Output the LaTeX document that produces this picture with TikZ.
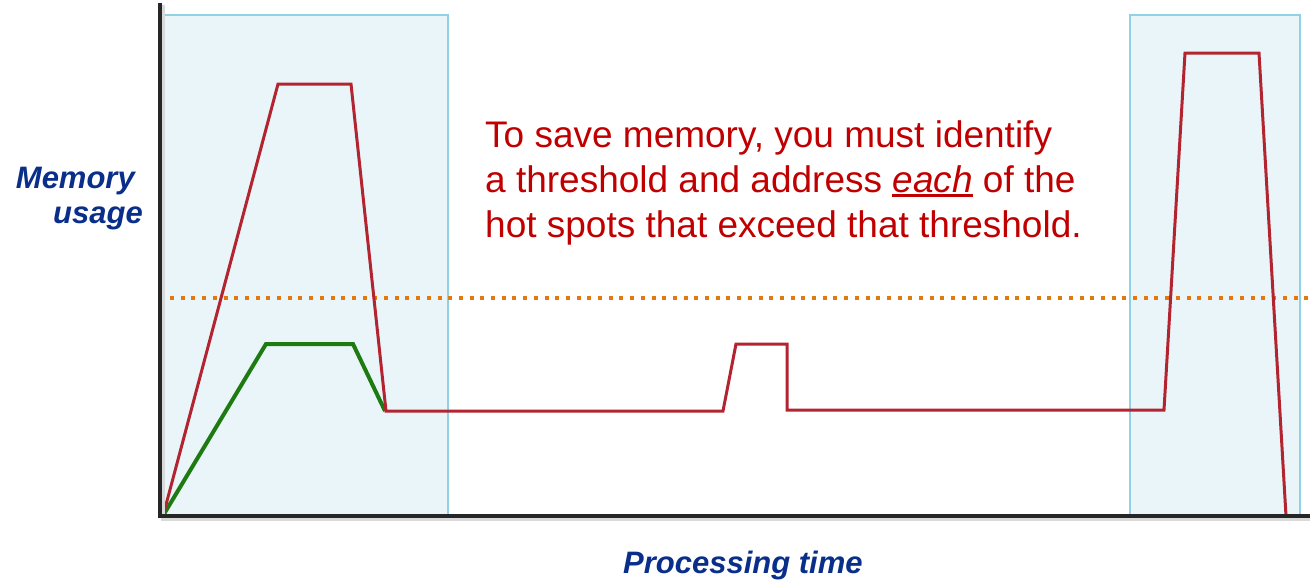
\documentclass[tikz,border=0pt]{standalone}
\usepackage{fontspec}
\setmainfont{Liberation Sans}
\newcommand\ulword[1]{\setbox0\hbox{#1}\rlap{\rule[-5pt]{\wd0}{2.6pt}}\box0\relax}
\definecolor{boxfill}{HTML}{EAF5FA}
\definecolor{boxline}{HTML}{92D0E6}
\definecolor{redline}{HTML}{B22530}
\definecolor{greenline}{HTML}{1E7B12}
\definecolor{orangedot}{HTML}{E3780E}
\definecolor{axiscol}{HTML}{262626}
\definecolor{labelblue}{HTML}{0A2F8A}
\definecolor{msgred}{HTML}{C00000}
\begin{document}
\begin{tikzpicture}[x=1pt,y=-1pt,
  hotbox/.style={fill=boxfill,draw=boxline,line width=1.6pt},
  usage/.style={draw=redline,line width=3pt,line join=miter},
  lowusage/.style={draw=greenline,line width=4pt,line join=miter},
  threshold/.style={draw=orangedot,line width=4pt,dash pattern=on 4pt off 6.7pt},
  axis/.style={draw=axiscol,line width=4pt},
  axislabel/.style={font=\fontsize{31}{35}\selectfont\bfseries\itshape,text=labelblue,inner sep=0pt},
  msg/.style={font=\fontsize{37}{45}\selectfont,text=msgred,align=left,inner sep=0pt,anchor=base west}]
\useasboundingbox (0,0) rectangle (1310,581);
% hot-spot regions
\path[hotbox] (163,15) rectangle (448,516);
\path[hotbox] (1130,15) rectangle (1300,516);
% threshold
\draw[threshold] (170,298) -- (1310,298);
% curves
\draw[lowusage] (164,514) -- (266,344) -- (353,344) -- (385,411);
\draw[usage] (163,516) -- (278,84) -- (351,84) -- (386,411) -- (723,411)
  -- (736,344) -- (787,344) -- (787,410) -- (1164,410) -- (1185,53)
  -- (1259,53) -- (1286,516);
% axes
\coordinate (top) at (160,3);
\coordinate (orig) at (160,516);
\coordinate (right) at (1310,516);
\draw[draw=black!15,line width=4pt] (162.5,5) -- (162.5,518.5) -- (1310,518.5);
\draw[axis] (top) -- (orig) -- (right);
% labels
\node[axislabel,anchor=base east,align=right] (ylab) at (143,223) {Memory\hspace*{8pt}\\usage};
\node[axislabel,anchor=base west] (xlab) at (623,573) {Processing time};
\node[msg] (note) at (485,237) {To save memory, you must identify\\a threshold and address \ulword{\itshape each} of the\\hot spots that exceed that threshold.};
\end{tikzpicture}
\end{document}
